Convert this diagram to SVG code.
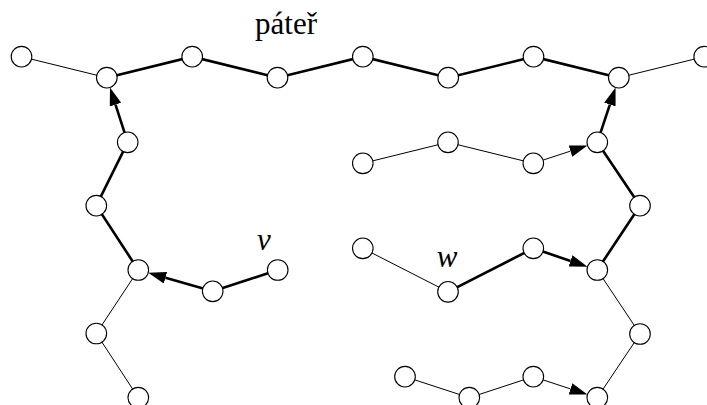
<svg xmlns="http://www.w3.org/2000/svg" width="707" height="405" viewBox="0 0 707 405">
<style>
.n{fill:#fff;stroke:#000;stroke-width:1.1}
.t{stroke:#000;stroke-width:1;fill:none}
.k{stroke:#000;stroke-width:2.6;fill:none}
.a{marker-end:url(#arr)}
.lbl{font-family:"Liberation Serif","Times New Roman",serif;font-size:31px;fill:#000}
.it{font-style:italic}
</style>
<defs>
<marker id="arr" markerUnits="userSpaceOnUse" viewBox="0 0 18 12" refX="0" refY="6" markerWidth="18" markerHeight="12" orient="auto">
<path d="M0,0 L18,6 L0,12 z" fill="#000"/>
</marker>
</defs>
<g id="connectors">
<line class="t" x1="21.5" y1="56.7" x2="106.8" y2="77.7"/>
<polyline class="k" points="106.8,77.7 192.2,56.7 277.5,77.7 362.8,56.7 448.2,77.7 533.5,56.7 618.8,77.7"/>
<line class="t" x1="618.8" y1="77.7" x2="704.2" y2="56.7"/>
<line class="k a" x1="127.7" y1="142.3" x2="115.51" y2="104.62"/>
<polyline class="k" points="127.7,142.3 96.3,205.7 138.3,270"/>
<line class="k" x1="277.7" y1="270" x2="212.7" y2="291.3"/>
<line class="k a" x1="212.7" y1="291.3" x2="165.51" y2="277.79"/>
<polyline class="t" points="138.3,270 96.3,333.5 138.3,397.7"/>
<polyline class="t" points="362.8,163.3 448,142.3 533.3,163.3"/>
<line class="t a" x1="533.3" y1="163.3" x2="570.41" y2="151.12"/>
<line class="k a" x1="597.3" y1="142.3" x2="609.86" y2="104.55"/>
<polyline class="k" points="597.3,142.3 640,205.7 597.3,270"/>
<line class="t" x1="362.8" y1="248.3" x2="448" y2="291.8"/>
<line class="k" x1="448" y1="291.8" x2="533.3" y2="248.3"/>
<line class="k a" x1="533.3" y1="248.3" x2="570.5" y2="260.91"/>
<polyline class="t" points="597.3,270 640,334 597.3,397.7"/>
<polyline class="t" points="405,376.7 469.3,397.7 533.3,376.7"/>
<line class="t a" x1="533.3" y1="376.7" x2="570.41" y2="388.88"/>
</g>
<g id="T1"><circle class="n" cx="21.5" cy="56.7" r="10.3"/></g>
<g id="T2"><circle class="n" cx="106.8" cy="77.7" r="10.3"/></g>
<g id="T3"><circle class="n" cx="192.2" cy="56.7" r="10.3"/></g>
<g id="T4"><circle class="n" cx="277.5" cy="77.7" r="10.3"/></g>
<g id="T5"><circle class="n" cx="362.8" cy="56.7" r="10.3"/></g>
<g id="T6"><circle class="n" cx="448.2" cy="77.7" r="10.3"/></g>
<g id="T7"><circle class="n" cx="533.5" cy="56.7" r="10.3"/></g>
<g id="T8"><circle class="n" cx="618.8" cy="77.7" r="10.3"/></g>
<g id="T9"><circle class="n" cx="704.2" cy="56.7" r="10.3"/></g>
<g id="L1"><circle class="n" cx="127.7" cy="142.3" r="10.3"/></g>
<g id="L2"><circle class="n" cx="96.3" cy="205.7" r="10.3"/></g>
<g id="L3"><circle class="n" cx="138.3" cy="270" r="10.3"/></g>
<g id="L4"><circle class="n" cx="212.7" cy="291.3" r="10.3"/></g>
<g id="V"><circle class="n" cx="277.7" cy="270" r="10.3"/></g>
<g id="L5"><circle class="n" cx="96.3" cy="333.5" r="10.3"/></g>
<g id="L6"><circle class="n" cx="138.3" cy="397.7" r="10.3"/></g>
<g id="A1"><circle class="n" cx="362.8" cy="163.3" r="10.3"/></g>
<g id="A2"><circle class="n" cx="448" cy="142.3" r="10.3"/></g>
<g id="A3"><circle class="n" cx="533.3" cy="163.3" r="10.3"/></g>
<g id="B1"><circle class="n" cx="597.3" cy="142.3" r="10.3"/></g>
<g id="B2"><circle class="n" cx="640" cy="205.7" r="10.3"/></g>
<g id="B3"><circle class="n" cx="597.3" cy="270" r="10.3"/></g>
<g id="C1"><circle class="n" cx="362.8" cy="248.3" r="10.3"/></g>
<g id="W"><circle class="n" cx="448" cy="291.8" r="10.3"/></g>
<g id="C3"><circle class="n" cx="533.3" cy="248.3" r="10.3"/></g>
<g id="B4"><circle class="n" cx="640" cy="334" r="10.3"/></g>
<g id="B5"><circle class="n" cx="597.3" cy="397.7" r="10.3"/></g>
<g id="D1"><circle class="n" cx="405" cy="376.7" r="10.3"/></g>
<g id="D2"><circle class="n" cx="469.3" cy="397.7" r="10.3"/></g>
<g id="D3"><circle class="n" cx="533.3" cy="376.7" r="10.3"/></g>
<g id="labels">
<text class="lbl" x="286" y="34" text-anchor="middle">páteř</text>
<text class="lbl it" x="264" y="250" text-anchor="middle">v</text>
<text class="lbl it" x="447" y="267" text-anchor="middle">w</text>
</g>
</svg>
